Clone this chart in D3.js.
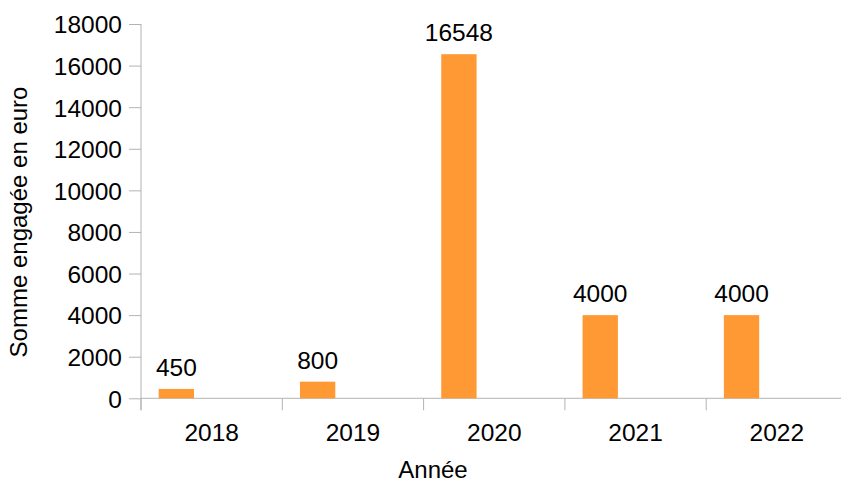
<!DOCTYPE html>
<html>
<head>
<meta charset="utf-8">
<script src="https://cdn.jsdelivr.net/npm/d3@7"></script>
<style>
	body { margin: 0; background: #fff; }
	svg { display: block; font-family: "Liberation Sans", Arial, sans-serif; }
</style>
</head>
<body>
<svg width="841" height="482"></svg>
<script>
// Data
var years = ["2018", "2019", "2020", "2021", "2022"];
var amounts = [450, 800, 16548, 4000, 4000];
var yTicks = [0, 2000, 4000, 6000, 8000, 10000, 12000, 14000, 16000, 18000];

var svg = d3.select("svg");
// plot area (note: "top" is taken by window.top)
var plotLeft = 141, plotRight = 847.5, plotTop = 24, plotBottom = 398.3;
var axisColor = "#b3b3b3";

var x = d3.scaleBand().domain(years).range([plotLeft, plotRight]).padding(0);
// 3 slots per category, only the first one used (like the original chart)
var slot = d3.scaleBand().domain(["s1", "s2", "s3"]).range([0, x.step()])
	.paddingInner(0).paddingOuter(0.5);
var y = d3.scaleLinear().domain([0, 18000]).range([plotBottom, plotTop]);

// Y axis
var yAxis = svg.append("g")
	.attr("transform", "translate(" + plotLeft + ",0)")
	.call(d3.axisLeft(y).tickValues(yTicks).tickSize(12).tickPadding(7).tickFormat(d3.format("d")));
yAxis.select(".domain").remove();
yAxis.selectAll(".tick line").attr("stroke", axisColor);
yAxis.selectAll(".tick text")
	.attr("fill", "#000")
	.style("font-size", "24.5px")
	.attr("dy", "0.36em");
svg.append("line")
	.attr("x1", plotLeft).attr("x2", plotLeft)
	.attr("y1", plotTop).attr("y2", plotBottom + 12)
	.attr("stroke", axisColor);

// X axis
svg.append("line")
	.attr("x1", plotLeft).attr("x2", plotRight)
	.attr("y1", plotBottom).attr("y2", plotBottom)
	.attr("stroke", axisColor);
svg.append("g").selectAll("line")
	.data(years)
	.enter().append("line")
	.attr("x1", (d) => x(d)).attr("x2", (d) => x(d))
	.attr("y1", plotBottom).attr("y2", plotBottom + 12)
	.attr("stroke", axisColor);
var xAxis = svg.append("g")
	.attr("transform", "translate(0," + plotBottom + ")")
	.call(d3.axisBottom(x).tickSize(0).tickPadding(0));
xAxis.select(".domain").remove();
xAxis.selectAll(".tick text")
	.attr("fill", "#000")
	.style("font-size", "24.5px")
	.attr("y", 43)
	.attr("dy", null);

// Bars
var rows = years.map((d, i) => ({ year: d, value: amounts[i] }));
svg.append("g").selectAll("rect")
	.data(rows)
	.enter().append("rect")
	.attr("x", (d) => x(d.year) + slot("s1"))
	.attr("width", slot.bandwidth())
	.attr("y", (d) => y(d.value))
	.attr("height", (d) => y(0) - y(d.value))
	.attr("fill", "#ff9933");

// Value labels
svg.append("g").selectAll("text")
	.data(rows)
	.enter().append("text")
	.attr("x", (d) => x(d.year) + slot("s1") + slot.bandwidth() / 2)
	.attr("y", (d) => y(d.value) - 13)
	.attr("text-anchor", "middle")
	.style("font-size", "24.5px")
	.text((d) => d.value);

// Axis titles
svg.append("text")
	.attr("x", 433).attr("y", 478)
	.attr("text-anchor", "middle")
	.style("font-size", "24px")
	.text("Année");
svg.append("text")
	.attr("transform", "translate(27,222) rotate(-90)")
	.attr("text-anchor", "middle")
	.style("font-size", "24px")
	.text("Somme engagée en euro");
</script>
</body>
</html>
